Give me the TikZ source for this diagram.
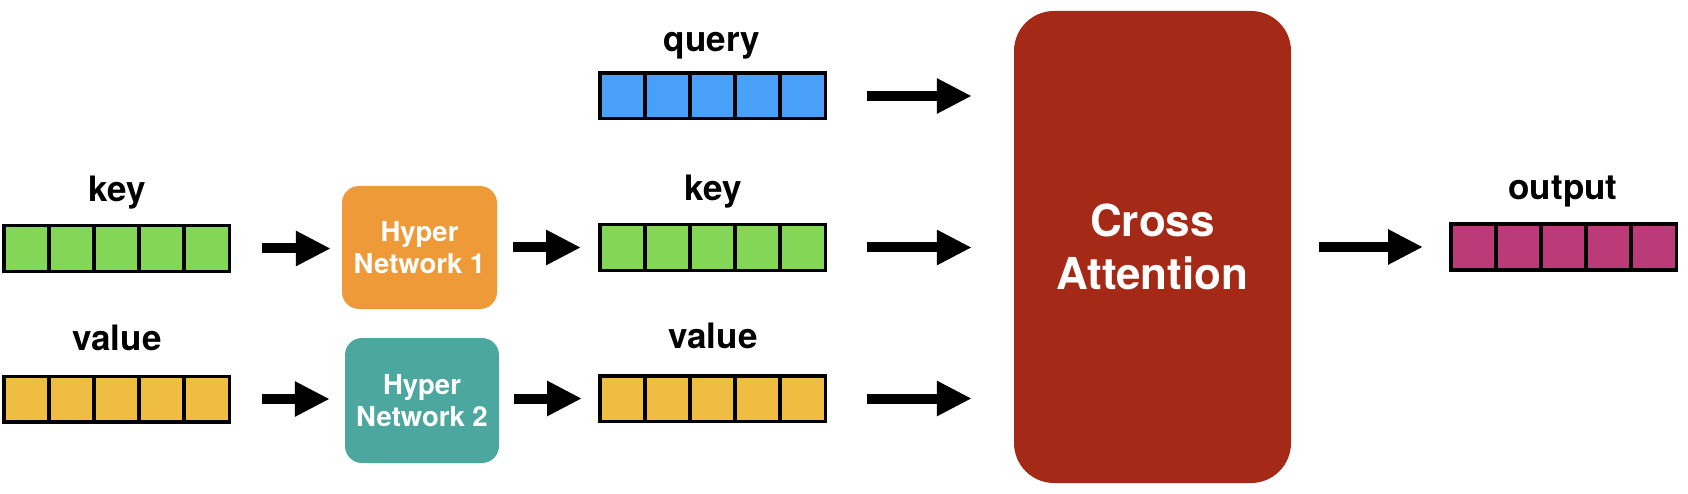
\documentclass[tikz,border=0pt]{standalone}
\usepackage{fontspec}
\setmainfont{TeX Gyre Heros}
\usetikzlibrary{arrows.meta,calc}
\definecolor{vgreen}{HTML}{84D657}
\definecolor{vblue}{HTML}{48A0F8}
\definecolor{vyellow}{HTML}{EFBD42}
\definecolor{vmag}{HTML}{BA3B78}
\definecolor{hnorange}{HTML}{EF9A38}
\definecolor{hnteal}{HTML}{4CA89E}
\definecolor{cared}{HTML}{A42A17}
\begin{document}
\begin{tikzpicture}[x=1pt,y=-1pt,
 vec/.style={draw=black, line width=3.5pt, fill=#1, minimum width=225.5pt, minimum height=45.5pt, inner sep=0pt,
   path picture={\foreach \i in {1,2,3,4}{\draw[line width=3.5pt] ($(path picture bounding box.south west)!\i/5!(path picture bounding box.south east)$) -- ($(path picture bounding box.north west)!\i/5!(path picture bounding box.north east)$);}}},
 lbl/.style={font=\fontsize{35}{42}\selectfont\bfseries, anchor=base, inner sep=0pt},
 hn/.style={fill=#1, rounded corners=17pt, text=white, align=center, font=\fontsize{27.5}{32}\selectfont\bfseries, inner sep=0pt},
 arr/.style={line width=10pt, -{Triangle[length=35pt,width=33pt]}},
]
\useasboundingbox (0,0) rectangle (1688,494);
% vectors
\node[vec=vgreen] (k1) at (116.5,248.5) {};
\node[vec=vyellow] (v1) at (116.5,399) {};
\node[vec=vblue] (q) at (712.5,96) {};
\node[vec=vgreen] (k2) at (712.5,247.5) {};
\node[vec=vyellow] (v2) at (712.5,398.5) {};
\node[vec=vmag] (o) at (1563.5,247) {};
% labels
\node[lbl] (lk1) at (117,202) {key};
\node[lbl] (lv1) at (117,350) {value};
\node[lbl] (lq) at (712,52) {query};
\node[lbl] (lk2) at (713,201) {key};
\node[lbl] (lv2) at (713,348) {value};
\node[lbl] (lo) at (1563,200) {output};
% hyper networks
\node[hn=hnorange, minimum width=155pt, minimum height=123pt] (hn1) at (419.5,247.5) {Hyper\\Network 1};
\node[hn=hnteal, minimum width=154pt, minimum height=125pt] (hn2) at (422,400.5) {Hyper\\Network 2};
% cross attention
\node[fill=cared, rounded corners=40pt, minimum width=277pt, minimum height=472pt, inner sep=0pt,
      text=white, align=center, font=\fontsize{44}{53}\selectfont\bfseries] (ca) at (1152.5,247) {Cross\\Attention};
% arrows
\draw[arr, shorten <=31pt, shorten >=11pt] (k1.east) -- (k1.east -| hn1.west);
\draw[arr, shorten <=31pt, shorten >=15pt] (v1.east) -- (v1.east -| hn2.west);
\draw[arr, shorten <=16pt, shorten >=17pt] (hn1.east |- k2.west) -- (k2.west);
\draw[arr, shorten <=15pt, shorten >=16pt] (hn2.east |- v2.west) -- (v2.west);
\draw[arr, shorten <=40pt, shorten >=42pt] (q.east) -- (q.east -| ca.west);
\draw[arr, shorten <=40pt, shorten >=42pt] (k2.east) -- (k2.east -| ca.west);
\draw[arr, shorten <=40pt, shorten >=42pt] (v2.east) -- (v2.east -| ca.west);
\draw[arr, shorten <=28pt, shorten >=26pt] (ca.east |- o.west) -- (o.west);
\end{tikzpicture}
\end{document}
